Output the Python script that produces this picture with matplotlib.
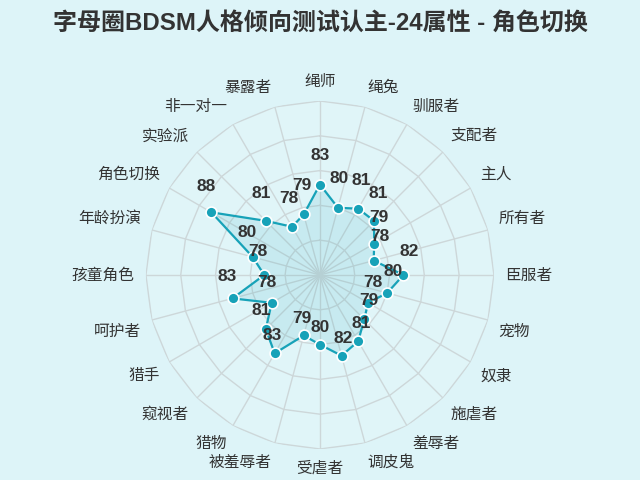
import numpy as np
import matplotlib
matplotlib.use("Agg")
import matplotlib.pyplot as plt

plt.rcParams['font.family'] = ['Noto Sans CJK SC', 'DejaVu Sans']

title = "字母圈BDSM人格倾向测试认主-24属性 - 角色切换"
categories = ["绳师", "绳兔", "驯服者", "支配者", "主人", "所有者", "臣服者", "宠物",
              "奴隶", "施虐者", "羞辱者", "调皮鬼", "受虐者", "被羞辱者", "猎物", "窥视者",
              "猎手", "呵护者", "孩童角色", "年龄扮演", "角色切换", "实验派", "非一对一", "暴露者"]
values = [83, 80, 81, 81, 79, 78, 82, 80,
          78, 79, 81, 82, 80, 79, 83, 81,
          78, 83, 78, 80, 88, 81, 78, 79]
r_min, r_max = 70, 95
ring_levels = [75, 80, 85, 90, 95]

bg = '#ddf4f8'
teal = '#17a2b8'
text_col = '#333333'
grid_col = '#cdd7d9'

fig = plt.figure(figsize=(6.4, 4.8), dpi=100, facecolor=bg)
ax = fig.add_axes([0.228, 0.0646, 0.54375, 0.725], projection='polar', facecolor='none')
ax.set_theta_zero_location('N')
ax.set_theta_direction(-1)
ax.set_ylim(r_min, r_max)
ax.grid(False)
ax.spines['polar'].set_visible(False)
ax.set_xticks([])
ax.set_yticks([])

n = len(categories)
theta = np.arange(n) * 2 * np.pi / n
theta_c = np.append(theta, theta[0])

# subtle lighter area inside outer ring
ax.fill(theta_c, [r_max] * (n + 1), color='white', alpha=0.1, lw=0, zorder=0)

# polygon rings
for lv in ring_levels:
    ax.plot(theta_c, [lv] * (n + 1), color=grid_col, lw=1, zorder=1)
# spokes
for t in theta:
    ax.plot([t, t], [r_min, r_max], color=grid_col, lw=1, zorder=1)

vals_c = np.append(values, values[0])
ax.fill(theta_c, vals_c, color=teal, alpha=0.12, lw=0, zorder=2)
ax.plot(theta_c, vals_c, color=teal, lw=1.6, zorder=3)
ax.plot(theta, values, 'o', ms=7.8, mfc=teal, mec='white', mew=1.2, zorder=4, clip_on=False)

# value labels
for t, v in zip(theta, values):
    dx = 6 * np.sin(t)
    dy = 6 * np.cos(t) + 23
    ax.annotate(str(v), xy=(t, v), xytext=(dx, dy), textcoords='offset pixels',
                ha='center', va='center', fontsize=12.5, fontweight='bold',
                color=text_col, family=['Liberation Sans', 'DejaVu Sans'], zorder=5)

# category labels
R_lab = r_min + (r_max - r_min) * 185 / 174
for t, c in zip(theta, categories):
    s = np.sin(t)
    co = np.cos(t)
    if abs(s) < 1e-6:
        ha = 'center'
    elif s > 0:
        ha = 'left'
    else:
        ha = 'right'
    if co > 1e-6:
        va = 'bottom'
    elif co < -1e-6:
        va = 'top'
    else:
        va = 'center'
    ax.text(t, R_lab, c, ha=ha, va=va, fontsize=11.3, color=text_col, clip_on=False)

fig.text(0.5, 0.951, title, ha='center', va='center', fontsize=17.3, fontweight='bold',
         color=text_col, family=['Liberation Sans', 'Noto Sans CJK SC'])

fig.savefig('out.png', dpi=100, facecolor=bg)
